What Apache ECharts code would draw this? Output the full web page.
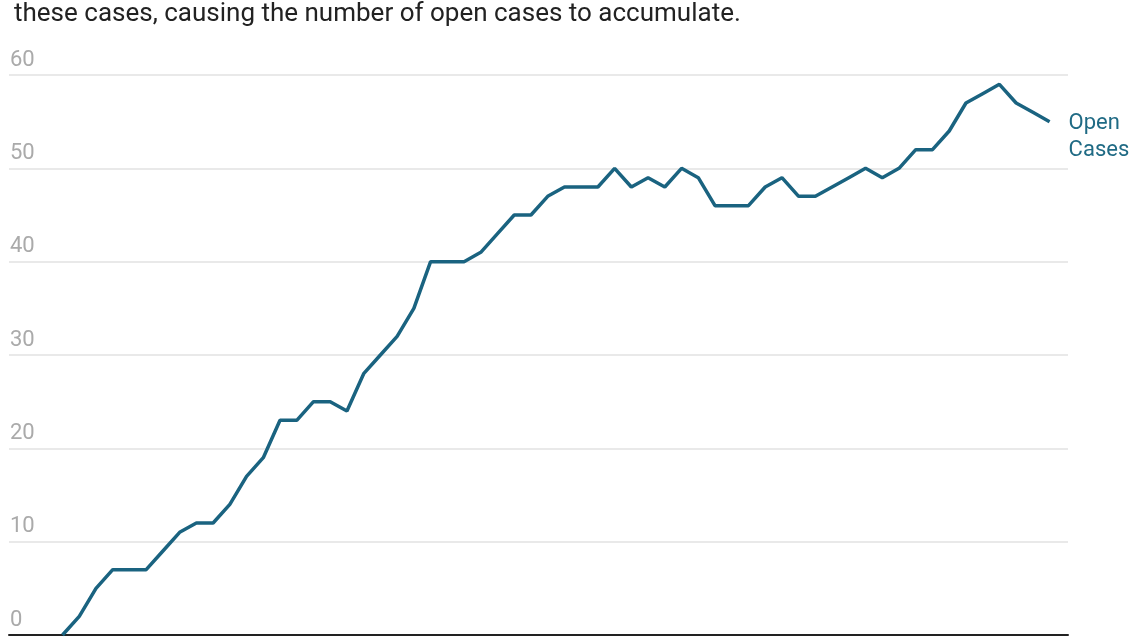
<!DOCTYPE html>
<html>
<head>
<meta charset="utf-8">
<script src="https://cdn.jsdelivr.net/npm/echarts@6/dist/echarts.min.js"></script>
<style>
html,body{margin:0;padding:0;background:#fff;}
#chart{width:1140px;height:641px;}
</style>
</head>
<body>
<div id="chart"></div>
<script>
var titleText = "these cases, causing the number of open cases to accumulate.";
var seriesName = "Open\nCases";
var openCases = [0,2,5,7,7,7,9,11,12,12,14,17,19,23,23,25,25,24,28,30,32,35,40,40,40,41,43,45,45,47,48,48,48,50,48,49,48,50,49,46,46,46,48,49,47,47,48,49,50,49,50,52,52,54,57,58,59,57,56,55];
var yTicks = [0,10,20,30,40,50,60];

var data = openCases.map(function(v,i){return [i,v];});
var chart = echarts.init(document.getElementById('chart'));
chart.setOption({
  animation:false,
  backgroundColor:'#fff',
  title:{
    text:titleText, left:9, top:-4,
    textStyle:{fontFamily:'Roboto', fontSize:26, fontWeight:'normal', color:'#222'}
  },
  grid:{left:9, right:72, top:75, bottom:6, containLabel:false},
  xAxis:{
    type:'value', min:-3.2, max:60.1,
    axisLine:{show:true, onZero:false, lineStyle:{color:'#222', width:2}},
    axisTick:{show:false}, axisLabel:{show:false}, splitLine:{show:false}
  },
  yAxis:{
    type:'value', min:yTicks[0], max:yTicks[yTicks.length-1], interval:10,
    axisLine:{show:false}, axisTick:{show:false},
    axisLabel:{inside:true, margin:1, verticalAlign:'bottom', padding:[0,0,4,0],
      color:'#aaa', fontFamily:'Roboto', fontSize:22,
      formatter:function(v){return yTicks.indexOf(v)>=0?String(v):'';}},
    splitLine:{lineStyle:{color:'#e2e2e2', width:1.5}}
  },
  series:[{
    type:'line', name:seriesName, data:data, symbol:'none',
    lineStyle:{color:'#1a6380', width:3.5},
    endLabel:{show:true, formatter:seriesName, color:'#1f6a84',
      fontFamily:'Roboto', fontSize:22, lineHeight:27, distance:19, offset:[0,15], align:'left'}
  }]
});
</script>
</body>
</html>
